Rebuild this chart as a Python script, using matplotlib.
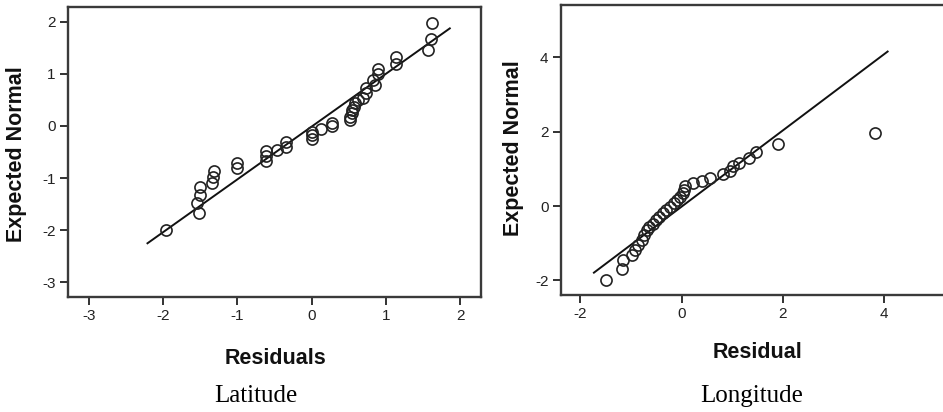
import matplotlib
matplotlib.use("Agg")
import matplotlib.pyplot as plt

# ---- Latitude panel data ----
lat_resid = [-1.96, -1.52, -1.54, -1.50, -1.50, -1.34, -1.33, -1.31, -1.00, -1.00,
             -0.62, -0.61, -0.61, -0.46, -0.35, -0.35, 0.00, 0.00, 0.00, 0.13,
             0.27, 0.27, 0.51, 0.52, 0.54, 0.55, 0.57, 0.59, 0.62, 0.69,
             0.73, 0.73, 0.85, 0.83, 0.90, 0.90, 1.14, 1.14, 1.57, 1.61, 1.62]
lat_expected = [-1.99, -1.67, -1.47, -1.32, -1.17, -1.09, -0.97, -0.87, -0.81, -0.71,
                -0.67, -0.57, -0.49, -0.46, -0.40, -0.30, -0.26, -0.17, -0.11, -0.06,
                -0.01, 0.06, 0.11, 0.18, 0.24, 0.31, 0.37, 0.43, 0.50, 0.53,
                0.63, 0.72, 0.79, 0.88, 1.00, 1.09, 1.19, 1.32, 1.46, 1.66, 1.98]
lat_line_x = [-2.21, 1.86]
lat_line_y = [-2.25, 1.87]
lat_xticks = [-3, -2, -1, 0, 1, 2]
lat_yticks = [-3, -2, -1, 0, 1, 2]

# ---- Longitude panel data ----
lon_resid = [-1.49, -1.18, -1.16, -0.98, -0.92, -0.85, -0.79, -0.74, -0.69, -0.64,
             -0.57, -0.51, -0.44, -0.37, -0.31, -0.23, -0.15, -0.09, -0.03, 0.02,
             0.05, 0.06, 0.22, 0.41, 0.56, 0.82, 0.96, 1.02, 1.13, 1.34,
             1.48, 1.90, 3.83]
lon_expected = [-1.99, -1.68, -1.45, -1.32, -1.18, -1.05, -0.91, -0.78, -0.65, -0.56,
                -0.47, -0.38, -0.29, -0.20, -0.11, -0.02, 0.07, 0.16, 0.25, 0.34,
                0.43, 0.54, 0.63, 0.67, 0.74, 0.86, 0.95, 1.08, 1.16, 1.28,
                1.46, 1.67, 1.97]
lon_line_x = [-1.73, 4.07]
lon_line_y = [-1.79, 4.15]
lon_xticks = [-2, 0, 2, 4]
lon_yticks = [-2, 0, 2, 4]

plt.rcParams['font.family'] = ['Liberation Sans', 'DejaVu Sans']
plt.rcParams['axes.unicode_minus'] = False

fig = plt.figure(figsize=(9.43, 4.12), dpi=100)
W, H = 943, 412

def add_axes_px(l, t, r, b):
    return fig.add_axes([l / W, 1 - b / H, (r - l) / W, (b - t) / H])

ax1 = add_axes_px(68, 7, 481, 297)
ax2 = add_axes_px(561, 5, 956, 295)

def style(ax):
    for s in ax.spines.values():
        s.set_linewidth(1.7)
        s.set_color('#3a3a3a')
    ax.tick_params(direction='out', length=6, width=1.3, colors='#222222',
                   labelsize=11, pad=3)

# Left
ax1.plot(lat_line_x, lat_line_y, color='#111111', lw=1.4, zorder=2)
ax1.plot(lat_resid, lat_expected, linestyle='none', marker='o', markersize=8,
         markerfacecolor='none', markeredgecolor='#222222', markeredgewidth=1.2, zorder=3)
ax1.set_xlim(-3.28, 2.28)
ax1.set_ylim(-3.28, 2.28)
ax1.set_xticks(lat_xticks)
ax1.set_yticks(lat_yticks)
style(ax1)

# Right
ax2.plot(lon_line_x, lon_line_y, color='#111111', lw=1.4, zorder=2)
ax2.plot(lon_resid, lon_expected, linestyle='none', marker='o', markersize=8,
         markerfacecolor='none', markeredgecolor='#222222', markeredgewidth=1.2, zorder=3)
ax2.set_xlim(-2.38, 5.42)
ax2.set_ylim(-2.39, 5.40)
ax2.set_xticks(lon_xticks)
ax2.set_yticks(lon_yticks)
style(ax2)

lab = dict(fontsize=15.5, fontweight='bold', color='#111111')
fig.text(17 / W, 1 - 154 / H, 'Expected Normal', rotation=90, ha='center', va='center', **lab)
fig.text(513 / W, 1 - 148 / H, 'Expected Normal', rotation=90, ha='center', va='center', **lab)
fig.text(275 / W, 1 - 358 / H, 'Residuals', ha='center', va='center', **lab)
fig.text(758 / W, 1 - 353 / H, 'Residual', ha='center', va='center', **lab)

cap = dict(fontsize=18, family='Liberation Serif', color='black')
fig.text(256 / W, 1 - 396 / H, 'Latitude', ha='center', va='center', **cap)
fig.text(752 / W, 1 - 396 / H, 'Longitude', ha='center', va='center', **cap)

fig.savefig('out.png', dpi=100)
